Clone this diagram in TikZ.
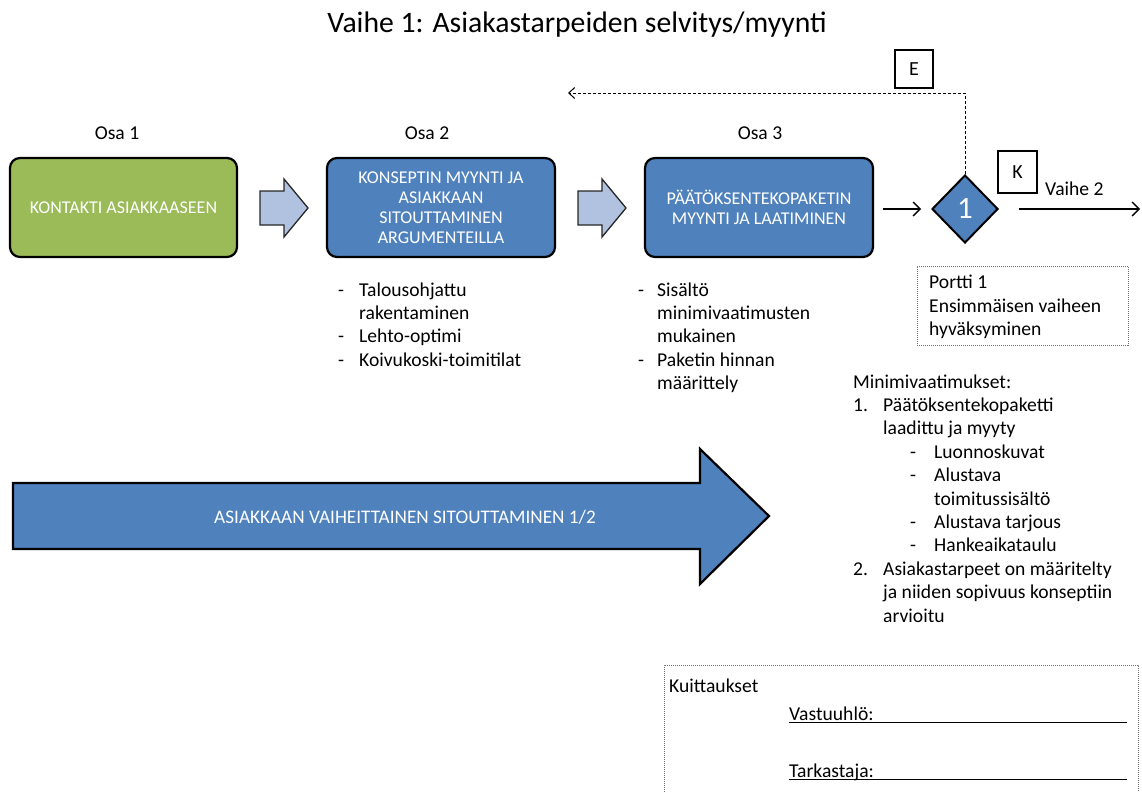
\documentclass[tikz,border=0pt]{standalone}
\usepackage{fontspec}
\setmainfont{Carlito}
\usetikzlibrary{arrows.meta,shapes.geometric}
\definecolor{phasegreen}{HTML}{9BBB59}
\definecolor{phaseblue}{HTML}{4F81BD}
\definecolor{steparrow}{HTML}{B0C2DF}
\definecolor{dotgray}{HTML}{707070}
\newcommand\txtfont{\fontsize{19.6}{23.4}\selectfont}
\newcommand\capfont{\fontsize{18}{20}\selectfont}
\begin{document}
\begin{tikzpicture}[x=1pt,y=-1pt,
  txt/.style={anchor=base west,inner sep=0pt,font=\txtfont},
  ctxt/.style={anchor=base,inner sep=0pt,font=\txtfont},
  phasebox/.style={draw=black,line width=2.2pt,rounded corners=10pt,
    minimum width=228pt,minimum height=99pt,inner sep=2pt,
    text=white,align=center,font=\capfont},
  blockarrow/.style={draw=black!85,line width=1.3pt,fill=steparrow,line join=miter},
  flow/.style={line width=1.3pt,-{Straight Barb[length=7pt,width=14pt,line width=1.3pt]}},
  tagbox/.style={draw=black,line width=2pt,minimum width=38pt,minimum height=38pt,
    inner sep=0pt,font=\fontsize{20}{22}\selectfont},
  dotbox/.style={draw=dotgray,line width=0.8pt,dash pattern=on 1pt off 1pt}]
\useasboundingbox (0,0) rectangle (1142,792);

% title
\node[anchor=base,inner sep=0pt,font=\fontsize{29.7}{32}\selectfont] (title) at (577,33)
  {Vaihe 1: Asiakastarpeiden selvitys/myynti};

% part labels
\node[ctxt] (osa1) at (117,139) {Osa 1};
\node[ctxt] (osa2) at (427,139) {Osa 2};
\node[ctxt] (osa3) at (760,139) {Osa 3};

% the three phases
\node[phasebox,fill=phasegreen,minimum width=227pt] (p1) at (123.5,207.5) {KONTAKTI ASIAKKAASEEN};
\node[phasebox,fill=phaseblue] (p2) at (441,207.5)
  {KONSEPTIN MYYNTI JA\\ASIAKKAAN\\SITOUTTAMINEN\\ARGUMENTEILLA};
\node[phasebox,fill=phaseblue] (p3) at (759,207.5)
  {PÄÄTÖKSENTEKOPAKETIN\\MYYNTI JA LAATIMINEN};

% block arrows between phases
\draw[blockarrow] (260,191) -- (284,191) -- (284,179) -- (308,208) -- (284,237)
  -- (284,225) -- (260,225) -- cycle;
\draw[blockarrow] (578,191) -- (602,191) -- (602,179) -- (626,208) -- (602,237)
  -- (602,225) -- (578,225) -- cycle;

% gate
\node[shape=diamond,draw=black,line width=2pt,fill=phaseblue,minimum width=66pt,
  minimum height=68pt,inner sep=0pt,text=white,font=\fontsize{31}{32}\selectfont]
  (gate) at (965,209) {1};
\draw[flow,shorten <=9pt,shorten >=10pt] (p3.east |- gate.west) -- (gate.west);

% return path
\coordinate (ret) at (568,93);
\draw[line width=1pt,dash pattern=on 3pt off 2pt,
  -{Straight Barb[length=6pt,width=11pt,line width=1pt]}]
  (gate.north) -- (gate.north |- ret) -- (ret);
\node[tagbox] (tagE) at (914,69) {E};

% continue to next phase
\node[tagbox,minimum height=42pt,minimum width=39pt] (tagK) at (1017.5,172) {K};
\coordinate (next) at (1140,209);
\draw[flow,shorten <=20pt] (gate.east) -- (next);
\node[txt] (vaihe2) at (1045,195) {Vaihe 2};

% gate description
\node[dotbox,minimum width=211pt,minimum height=79pt] (gatebox) at (1022.5,305.5) {};
\node[txt] (g1) at (929,288) {Portti 1};
\node[txt] (g2) at (929,312) {Ensimmäisen vaiheen};
\node[txt] (g3) at (929,335.5) {hyväksyminen};

% notes under phase 2
\node[txt] (a1d) at (338,296) {-};
\node[txt] (a1) at (359,296) {Talousohjattu};
\node[txt] (a1b) at (359,319.4) {rakentaminen};
\node[txt] (a2d) at (338,342.8) {-};
\node[txt] (a2) at (359,342.8) {Lehto-optimi};
\node[txt] (a3d) at (338,366.2) {-};
\node[txt] (a3) at (359,366.2) {Koivukoski-toimitilat};

% notes under phase 3
\node[txt] (b1d) at (638,296) {-};
\node[txt] (b1) at (657,296) {Sisältö};
\node[txt] (b1b) at (657,319.4) {minimivaatimusten};
\node[txt] (b1c) at (657,342.8) {mukainen};
\node[txt] (b2d) at (638,366.2) {-};
\node[txt] (b2) at (657,366.2) {Paketin hinnan};
\node[txt] (b2b) at (657,389.6) {määrittely};

% minimum requirements
\node[txt] (m0) at (853,388) {Minimivaatimukset:};
\node[txt] (m1n) at (853,411.4) {1.};
\node[txt] (m1) at (883,411.4) {Päätöksentekopaketti};
\node[txt] (m1b) at (883,434.8) {laadittu ja myyty};
\node[txt] (s1d) at (910,458.2) {-};
\node[txt] (s1) at (934,458.2) {Luonnoskuvat};
\node[txt] (s2d) at (910,481.6) {-};
\node[txt] (s2) at (934,481.6) {Alustava};
\node[txt] (s2b) at (934,505) {toimitussisältö};
\node[txt] (s3d) at (910,528.4) {-};
\node[txt] (s3) at (934,528.4) {Alustava tarjous};
\node[txt] (s4d) at (910,551.8) {-};
\node[txt] (s4) at (934,551.8) {Hankeaikataulu};
\node[txt] (m2n) at (853,575.2) {2.};
\node[txt] (m2) at (883,575.2) {Asiakastarpeet on määritelty};
\node[txt] (m2b) at (883,598.6) {ja niiden sopivuus konseptiin};
\node[txt] (m2c) at (883,622) {arvioitu};

% overall commitment arrow
\draw[draw=black,line width=2.2pt,fill=phaseblue,line join=miter]
  (13,483) -- (700,483) -- (700,449) -- (769,516) -- (700,584) -- (700,549)
  -- (13,549) -- cycle;
\node[inner sep=0pt,text=white,font=\fontsize{19.2}{21}\selectfont] (commit) at (405,517)
  {ASIAKKAAN VAIHEITTAINEN SITOUTTAMINEN 1/2};

% sign-off box
\draw[dotbox] (664,792) -- (664,665) -- (1138,665) -- (1138,792);
\node[txt] (kuit) at (669,692) {Kuittaukset};
\node[txt] (vast) at (789,720) {Vastuuhlö:};
\node[txt] (tark) at (789,777) {Tarkastaja:};
\draw[line width=1.4pt] (vast.base west) ++(0,2.5) -- (1127,722.5);
\draw[line width=1.4pt] (tark.base west) ++(0,2.5) -- (1127,779.5);
\end{tikzpicture}
\end{document}
